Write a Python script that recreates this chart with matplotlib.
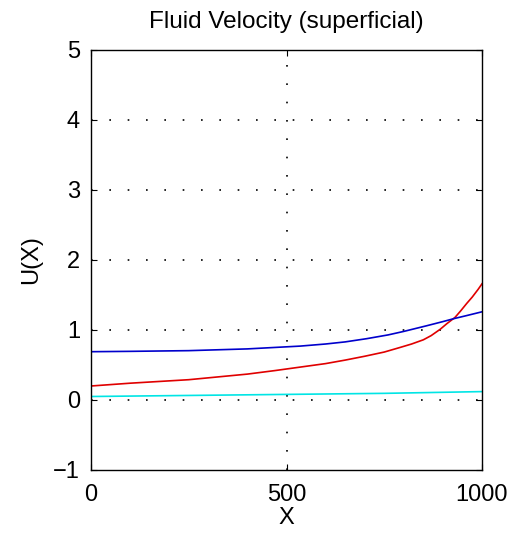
import matplotlib
matplotlib.use("Agg")
import matplotlib.pyplot as plt

plt.rcParams['font.family'] = ['Liberation Sans', 'DejaVu Sans']

x_red = [0, 100, 175, 250, 325, 400, 470, 535, 600, 650, 700, 750, 790, 820,
         850, 870, 893, 910, 931, 945, 961, 975, 990, 1000]
u_red = [0.20, 0.24, 0.265, 0.29, 0.33, 0.37, 0.42, 0.47, 0.52, 0.57, 0.625, 0.685,
         0.75, 0.80, 0.86, 0.92, 1.01, 1.09, 1.18, 1.27, 1.38, 1.47, 1.58, 1.66]

x_blue = [0, 100, 250, 400, 535, 600, 650, 705, 760, 800, 858, 900, 930, 960, 1000]
u_blue = [0.69, 0.695, 0.705, 0.73, 0.77, 0.80, 0.83, 0.876, 0.93, 0.98, 1.06, 1.12,
          1.165, 1.205, 1.26]

x_cyan = [0, 250, 500, 750, 1000]
u_cyan = [0.05, 0.065, 0.08, 0.095, 0.12]

xticks = [0, 500, 1000]
yticks = [-1, 0, 1, 2, 3, 4, 5]

fig = plt.figure(figsize=(5.17, 5.33), dpi=100)
ax = fig.add_axes([91/517, 1-470/533, 391/517, 420/533])

ax.plot(x_cyan, u_cyan, color='#00e5e5', lw=1.2)
ax.plot(x_red, u_red, color='#e00000', lw=1.2)
ax.plot(x_blue, u_blue, color='#0000cc', lw=1.2)

ax.set_xlim(0, 1000)
ax.set_ylim(-1, 5)
ax.set_xticks(xticks)
ax.set_yticks(yticks)
ax.grid(True, linestyle=(0, (1, 10)), color='black', lw=1.2)
xg = ax.xaxis.get_gridlines()
xg[0].set_visible(False)
xg[-1].set_visible(False)
yg = ax.yaxis.get_gridlines()
yg[0].set_visible(False)
yg[-1].set_visible(False)
ax.tick_params(direction='in', labelsize=17, length=4, top=True, right=True)
ax.tick_params(axis='x', pad=10)
ax.tick_params(axis='y', pad=8)
for s in ax.spines.values():
    s.set_linewidth(1.0)
ax.set_title('Fluid Velocity (superficial)', fontsize=17.5, pad=16)
ax.set_xlabel('X', fontsize=17, labelpad=1)
ax.set_ylabel('U(X)', fontsize=17, labelpad=8)

fig.savefig('out.png', dpi=100)
